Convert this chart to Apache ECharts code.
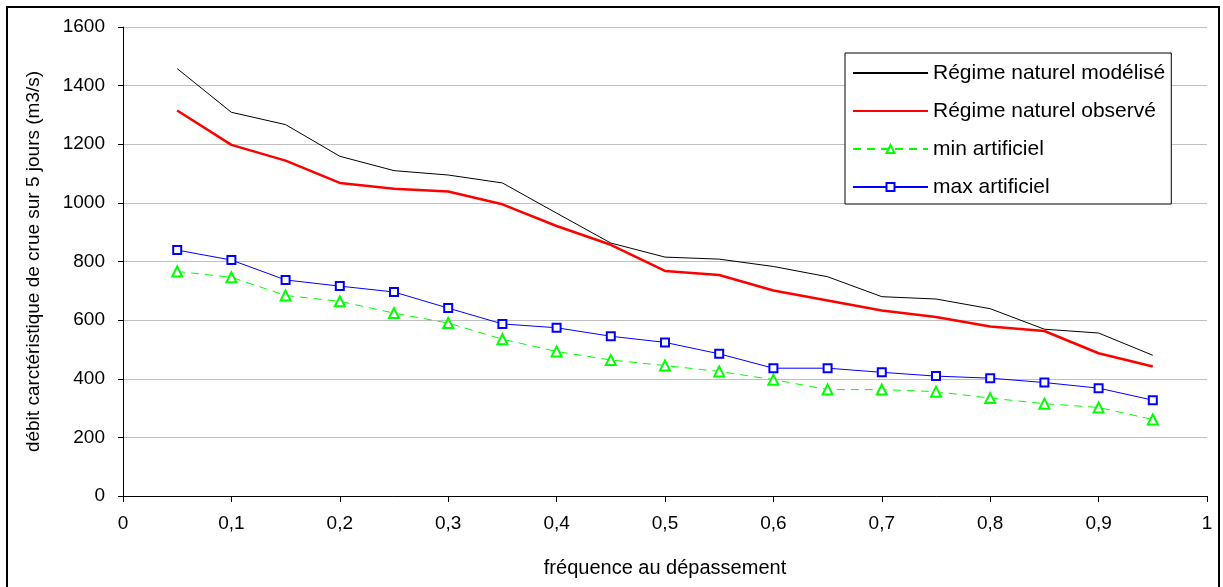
<!DOCTYPE html>
<html>
<head>
<meta charset="utf-8">
<script src="https://cdn.jsdelivr.net/npm/echarts@6/dist/echarts.min.js"></script>
<style>
html,body{margin:0;padding:0;background:#fff;}
#chart{width:1223px;height:587px;}
</style>
</head>
<body>
<div id="chart"></div>
<script>
const frequences = [0.05,0.1,0.15,0.2,0.25,0.3,0.35,0.4,0.45,0.5,0.55,0.6,0.65,0.7,0.75,0.8,0.85,0.9,0.95];
const naturelModelise = [1458,1309,1267,1159,1110,1095,1068,965,863,815,808,783,748,680,672,639,569,556,480];
const naturelObserve  = [1315,1198,1144,1068,1048,1039,995,921,857,768,754,701,667,633,611,578,563,487,442];
const minArtificiel   = [766,746,684,664,624,590,535,493,464,445,425,397,363,363,356,334,315,302,261];
const maxArtificiel   = [839,805,737,716,696,641,587,574,545,524,485,436,436,422,409,402,387,368,327];
const seriesNames = ['Régime naturel modélisé','Régime naturel observé','min artificiel','max artificiel'];
const xAxisTitle = 'fréquence au dépassement';
const yAxisTitle = 'débit carctéristique de crue sur 5 jours (m3/s)';

const pairs = arr => frequences.map((f, i) => [f, arr[i]]);
const FONT = '"Liberation Sans", Arial, sans-serif';
const noSymbol = {color: 'rgba(0,0,0,0)', borderColor: 'rgba(0,0,0,0)', borderWidth: 0};

const chart = echarts.init(document.getElementById('chart'), null, {renderer: 'canvas'});
chart.setOption({
  animation: false,
  backgroundColor: '#fff',
  textStyle: {fontFamily: FONT, color: '#000'},
  grid: {left: 123, right: 16, top: 27, bottom: 91},
  graphic: [{
    type: 'rect',
    shape: {x: 7, y: 7, width: 1212, height: 600},
    style: {fill: 'none', stroke: '#000', lineWidth: 2},
    silent: true, z: 100
  }],
  legend: {
    orient: 'vertical',
    left: 845, top: 53,
    padding: [8, 6, 5, 7],
    backgroundColor: '#fff',
    borderColor: '#000', borderWidth: 1,
    itemWidth: 75, itemHeight: 10, itemGap: 14,
    textStyle: {fontFamily: FONT, fontSize: 21, color: '#000', lineHeight: 24},
    data: [
      {name: seriesNames[0], itemStyle: noSymbol},
      {name: seriesNames[1], itemStyle: noSymbol},
      {name: seriesNames[2]},
      {name: seriesNames[3]}
    ]
  },
  xAxis: {
    type: 'value', min: 0, max: 1, interval: 0.1,
    name: xAxisTitle, nameLocation: 'middle', nameGap: 62,
    nameTextStyle: {fontFamily: FONT, fontSize: 20, color: '#000'},
    axisLine: {show: true, onZero: false, lineStyle: {color: '#000', width: 1}},
    axisTick: {show: true, inside: false, length: 6, lineStyle: {color: '#000'}},
    axisLabel: {fontFamily: FONT, fontSize: 19, color: '#000', margin: 18,
      formatter: v => String(Math.round(v * 10) / 10).replace('.', ',')},
    splitLine: {show: false}
  },
  yAxis: {
    type: 'value', min: 0, max: 1600, interval: 200,
    name: yAxisTitle, nameLocation: 'middle', nameGap: 80, nameRotate: 90,
    nameTextStyle: {fontFamily: FONT, fontSize: 19, color: '#000'},
    axisLine: {show: true, lineStyle: {color: '#000', width: 1}},
    axisTick: {show: true, inside: false, length: 5, lineStyle: {color: '#000'}},
    axisLabel: {fontFamily: FONT, fontSize: 19, color: '#000', margin: 18,
      formatter: v => String(Math.round(v))},
    splitLine: {show: true, lineStyle: {color: '#c0c0c0', width: 1}}
  },
  series: [
    {name: seriesNames[0], type: 'line', data: pairs(naturelModelise), symbol: 'none',
     lineStyle: {color: '#000', width: 1}, itemStyle: {color: '#000'}},
    {name: seriesNames[1], type: 'line', data: pairs(naturelObserve), symbol: 'none',
     lineStyle: {color: '#ff0000', width: 2.5}, itemStyle: {color: '#ff0000'}},
    {name: seriesNames[2], type: 'line', data: pairs(minArtificiel), symbol: 'triangle', symbolSize: 10,
     showSymbol: true,
     lineStyle: {color: '#00ff00', width: 1, type: [8, 6]},
     itemStyle: {color: '#fff', borderColor: '#00ff00', borderWidth: 2}},
    {name: seriesNames[3], type: 'line', data: pairs(maxArtificiel), symbol: 'rect', symbolSize: 8,
     showSymbol: true,
     lineStyle: {color: '#0000ff', width: 1},
     itemStyle: {color: '#fff', borderColor: '#0000ff', borderWidth: 2}}
  ]
});
</script>
</body>
</html>
